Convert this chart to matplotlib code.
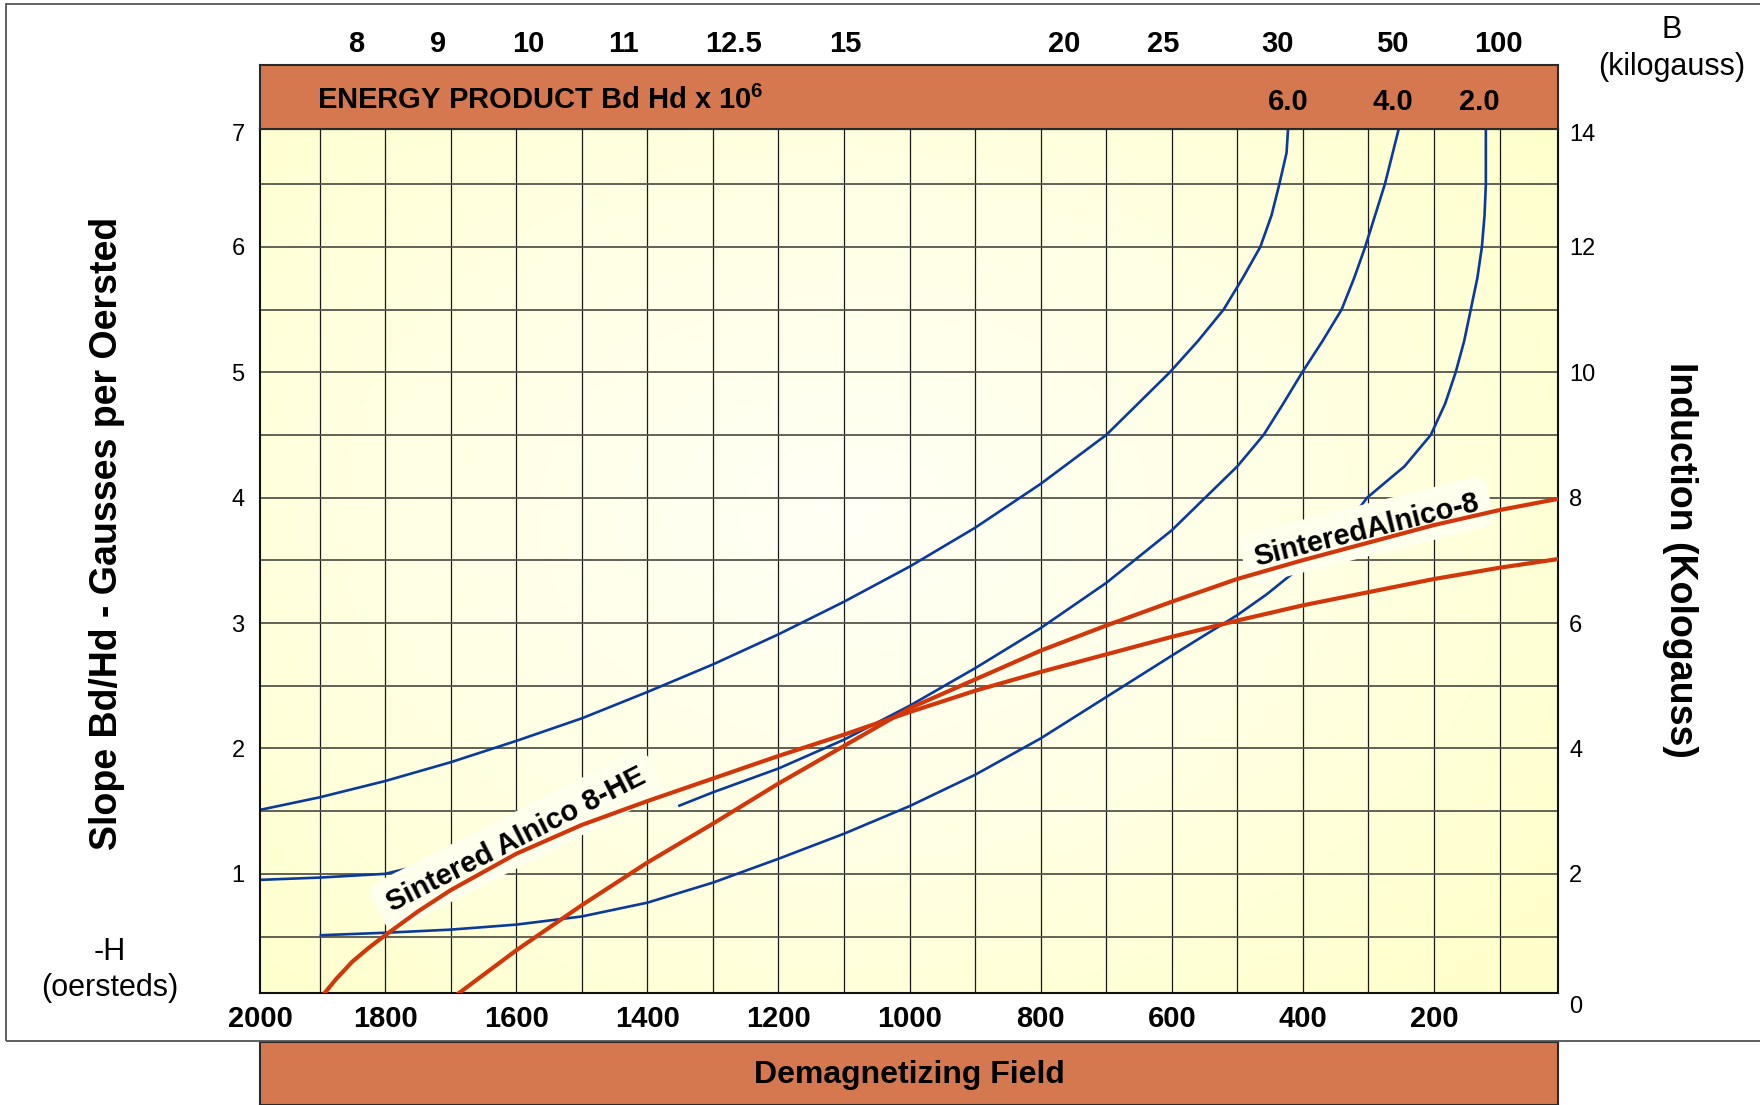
import matplotlib.pyplot as plt
import numpy as np
from matplotlib.colors import LinearSegmentedColormap
from matplotlib.patches import Rectangle

plt.rcParams['font.family'] = ['Liberation Sans', 'DejaVu Sans']
plt.rcParams['mathtext.fontset'] = 'custom'
plt.rcParams['mathtext.rm'] = 'Liberation Sans'

# -H (oersteds) against slope Bd/Hd
blue6_h = [2000, 1900, 1800, 1700, 1600, 1500, 1400, 1300, 1200, 1100, 1000, 900, 800, 700, 603,
           560, 521, 492, 465, 448, 436, 425, 422]
blue6_y = [1.50, 1.61, 1.74, 1.89, 2.06, 2.24, 2.45, 2.67, 2.91, 3.17, 3.45, 3.76, 4.11, 4.50, 5.00,
           5.25, 5.50, 5.75, 6.00, 6.25, 6.50, 6.75, 7.00]

blue4a_h = [2000, 1900, 1800, 1768]
blue4a_y = [0.95, 0.97, 1.00, 1.04]
blue4b_h = [1353, 1300, 1200, 1100, 1000, 900, 800, 700, 600, 549, 500, 460, 430, 401, 370, 341, 322, 305, 290,
            275, 263, 251]
blue4b_y = [1.54, 1.65, 1.84, 2.07, 2.34, 2.64, 2.96, 3.32, 3.74, 4.00, 4.25, 4.50, 4.75, 5.00, 5.25, 5.50, 5.75,
            6.00, 6.25, 6.50, 6.75, 7.00]

blue2a_h = [1900, 1800, 1700, 1600, 1500, 1400, 1300, 1200, 1100, 1000, 900, 800, 700, 600, 557, 501, 455, 410]
blue2a_y = [0.51, 0.53, 0.555, 0.595, 0.66, 0.77, 0.93, 1.12, 1.32, 1.54, 1.79, 2.08, 2.41, 2.74, 2.88, 3.06, 3.23, 3.42]
blue2b_h = [315, 302, 245, 205, 183, 167, 154, 144, 134, 127, 123, 121, 121]
blue2b_y = [3.91, 4.00, 4.25, 4.50, 4.75, 5.00, 5.25, 5.50, 5.75, 6.00, 6.25, 6.50, 7.00]

he8_h = [1900, 1875, 1850, 1825, 1800, 1750, 1700, 1600, 1500, 1400, 1300, 1200, 1100, 1000, 900, 800, 700, 600,
         500, 401, 301, 201, 101, 11]
he8_y = [0.0, 0.16, 0.30, 0.41, 0.51, 0.70, 0.87, 1.16, 1.39, 1.58, 1.76, 1.94, 2.11, 2.29, 2.46, 2.61, 2.75, 2.89,
         3.02, 3.14, 3.245, 3.35, 3.44, 3.51]

a8_h = [1700, 1600, 1500, 1400, 1300, 1200, 1100, 1000, 900, 800, 700, 600, 501, 401, 301, 201, 101, 11]
a8_y = [0.0, 0.39, 0.75, 1.09, 1.40, 1.72, 2.02, 2.32, 2.55, 2.78, 2.98, 3.17, 3.35, 3.50, 3.64, 3.78, 3.90, 3.99]

# tick labels
bottom_ticks = [1800, 1600, 1400, 1200, 1000, 800, 600, 400, 200]
left_ticks = [1, 2, 3, 4, 5, 6]
right_ticks = [2, 4, 6, 8, 10, 12]
top_pos = [1844, 1719, 1582, 1436, 1268, 1098, 764, 613, 439, 264, 102]
top_labels = ['8', '9', '10', '11', '12.5', '15', '20', '25', '30', '50', '100']
energy_pos = [423, 263, 131]
energy_labels = ['6.0', '4.0', '2.0']

orange = '#D5784F'
blue = '#0A3A9C'
red = '#D0380C'
xlim = (1991, 11)
ylim = (0.05, 6.94)

fig = plt.figure(figsize=(17.6, 11.05), dpi=100)

# outer frame
fig.add_artist(Rectangle((6 / 1760, 64 / 1105), 1.5, 1037 / 1105, transform=fig.transFigure,
                         fill=False, ec='#555555', lw=1.3))

ax = fig.add_axes([0.1477, 0.1014, 0.7375, 0.7819])

# pale yellow background, lighter toward the middle
gx, gy = np.meshgrid(np.linspace(0, 1, 300), np.linspace(0, 1, 200))
dist = np.sqrt((gx - 0.45) ** 2 + ((gy - 0.55) / 1.1) ** 2)
cmap = LinearSegmentedColormap.from_list('bg', ['#FFFFF6', '#FFFFE4', '#FFFFCB'])
ax.imshow(dist, extent=[0, 1, 0, 1], transform=ax.transAxes, cmap=cmap, vmin=0, vmax=0.7,
          aspect='auto', origin='lower', zorder=0)

ax.set_xlim(*xlim)
ax.set_ylim(*ylim)
ax.set_axisbelow(True)

ax.set_xticks(bottom_ticks)
ax.set_xticks(range(100, 2000, 100), minor=True)
ax.set_yticks(left_ticks)
ax.set_yticks(np.arange(0.5, 7, 0.5), minor=True)
ax.grid(which='both', axis='x', color='#1a1a1a', lw=0.9)
ax.grid(which='both', axis='y', color='#55554c', lw=1.3)
ax.tick_params(which='both', length=0)
ax.tick_params(axis='x', pad=9, labelsize=21)
ax.tick_params(axis='y', pad=11, labelsize=17)
for lab in ax.get_xticklabels():
    lab.set_fontweight('bold')
for sp in ax.spines.values():
    sp.set_color('#111111')
    sp.set_linewidth(1.5)

ax2 = ax.twinx()
ax2.set_ylim(2 * ylim[0], 2 * ylim[1])
ax2.set_yticks(right_ticks)
ax2.tick_params(length=0, pad=8, labelsize=17)
for sp in ax2.spines.values():
    sp.set_visible(False)

# edge labels that sit on the frame
ax.annotate('2000', xy=(0, 0), xycoords='axes fraction', xytext=(0, -9), textcoords='offset points',
            ha='center', va='top', fontsize=21, fontweight='bold')
ax.annotate('7', xy=(0, 1), xycoords='axes fraction', xytext=(-11, -4), textcoords='offset points',
            ha='right', va='center', fontsize=17)
ax.annotate('14', xy=(1, 1), xycoords='axes fraction', xytext=(8, -4), textcoords='offset points',
            ha='left', va='center', fontsize=17)
ax.annotate('0', xy=(1, 0), xycoords='axes fraction', xytext=(8, -10), textcoords='offset points',
            ha='left', va='center', fontsize=17)

# energy product curves
for hx, hy in [(blue6_h, blue6_y), (blue4a_h, blue4a_y), (blue4b_h, blue4b_y),
               (blue2a_h, blue2a_y), (blue2b_h, blue2b_y)]:
    ax.plot(hx, hy, color=blue, lw=1.9, zorder=2, solid_capstyle='butt', solid_joinstyle='round')

# demagnetization curves
ax.plot(he8_h, he8_y, color=red, lw=3.0, zorder=3, solid_joinstyle='round')
ax.plot(a8_h, a8_y, color=red, lw=3.0, zorder=3, solid_joinstyle='round')

# curve labels: pale box under the red line, text on top
labels = [('Sintered Alnico 8-HE', 1600, 1.27, 27.0), ('SinteredAlnico-8', 303, 3.74, 14.0)]
for txt, lx, ly, rot in labels:
    ax.text(lx, ly, txt, rotation=rot, rotation_mode='anchor', ha='center', va='center',
            fontsize=21, fontweight='bold', color=(0, 0, 0, 0), zorder=2.5,
            bbox=dict(boxstyle='round,pad=0.4', fc='#FFFFEE', ec='none'))
    ax.text(lx, ly, txt, rotation=rot, rotation_mode='anchor', ha='center', va='center',
            fontsize=21, fontweight='bold', color='black', zorder=4)

# top band
axt = fig.add_axes([0.1477, 0.8833, 0.7375, 0.0579])
axt.set_facecolor(orange)
axt.set_xlim(*xlim)
axt.set_ylim(0, 1)
axt.set_yticks([])
axt.xaxis.tick_top()
axt.set_xticks(top_pos)
axt.set_xticklabels(top_labels, fontsize=21, fontweight='bold')
axt.tick_params(length=0, pad=5)
for sp in axt.spines.values():
    sp.set_color('#2a2a2a')
    sp.set_linewidth(1.5)
axt.text(0.044, 0.45, r'ENERGY PRODUCT Bd Hd x 10$^{\mathregular{6}}$', transform=axt.transAxes,
         ha='left', va='center', fontsize=21, fontweight='bold')
for pos, lab in zip(energy_pos, energy_labels):
    axt.text(pos, 0.42, lab, ha='center', va='center', fontsize=21, fontweight='bold')

# bottom band
axb = fig.add_axes([0.1477, 0.0, 0.7375, 0.0570])
axb.set_facecolor(orange)
axb.set_xticks([])
axb.set_yticks([])
for sp in axb.spines.values():
    sp.set_color('#2a2a2a')
    sp.set_linewidth(1.5)
axb.text(0.5, 0.47, 'Demagnetizing Field', transform=axb.transAxes, ha='center', va='center',
         fontsize=23, fontweight='bold')

# axis titles
fig.text(0.0608, 0.5176, 'Slope Bd/Hd - Gausses per Oersted', rotation=90, ha='center', va='center',
         fontsize=27, fontweight='bold')
fig.text(0.9545, 0.4932, 'Induction (Kologauss)', rotation=-90, ha='center', va='center',
         fontsize=27, fontweight='bold')
fig.text(0.0625, 0.1385, '-H', ha='center', va='center', fontsize=22)
fig.text(0.0625, 0.1059, '(oersteds)', ha='center', va='center', fontsize=22)
fig.text(0.950, 0.9729, 'B', ha='center', va='center', fontsize=22)
fig.text(0.950, 0.9394, '(kilogauss)', ha='center', va='center', fontsize=22)

fig.savefig('out.png', dpi=100)
